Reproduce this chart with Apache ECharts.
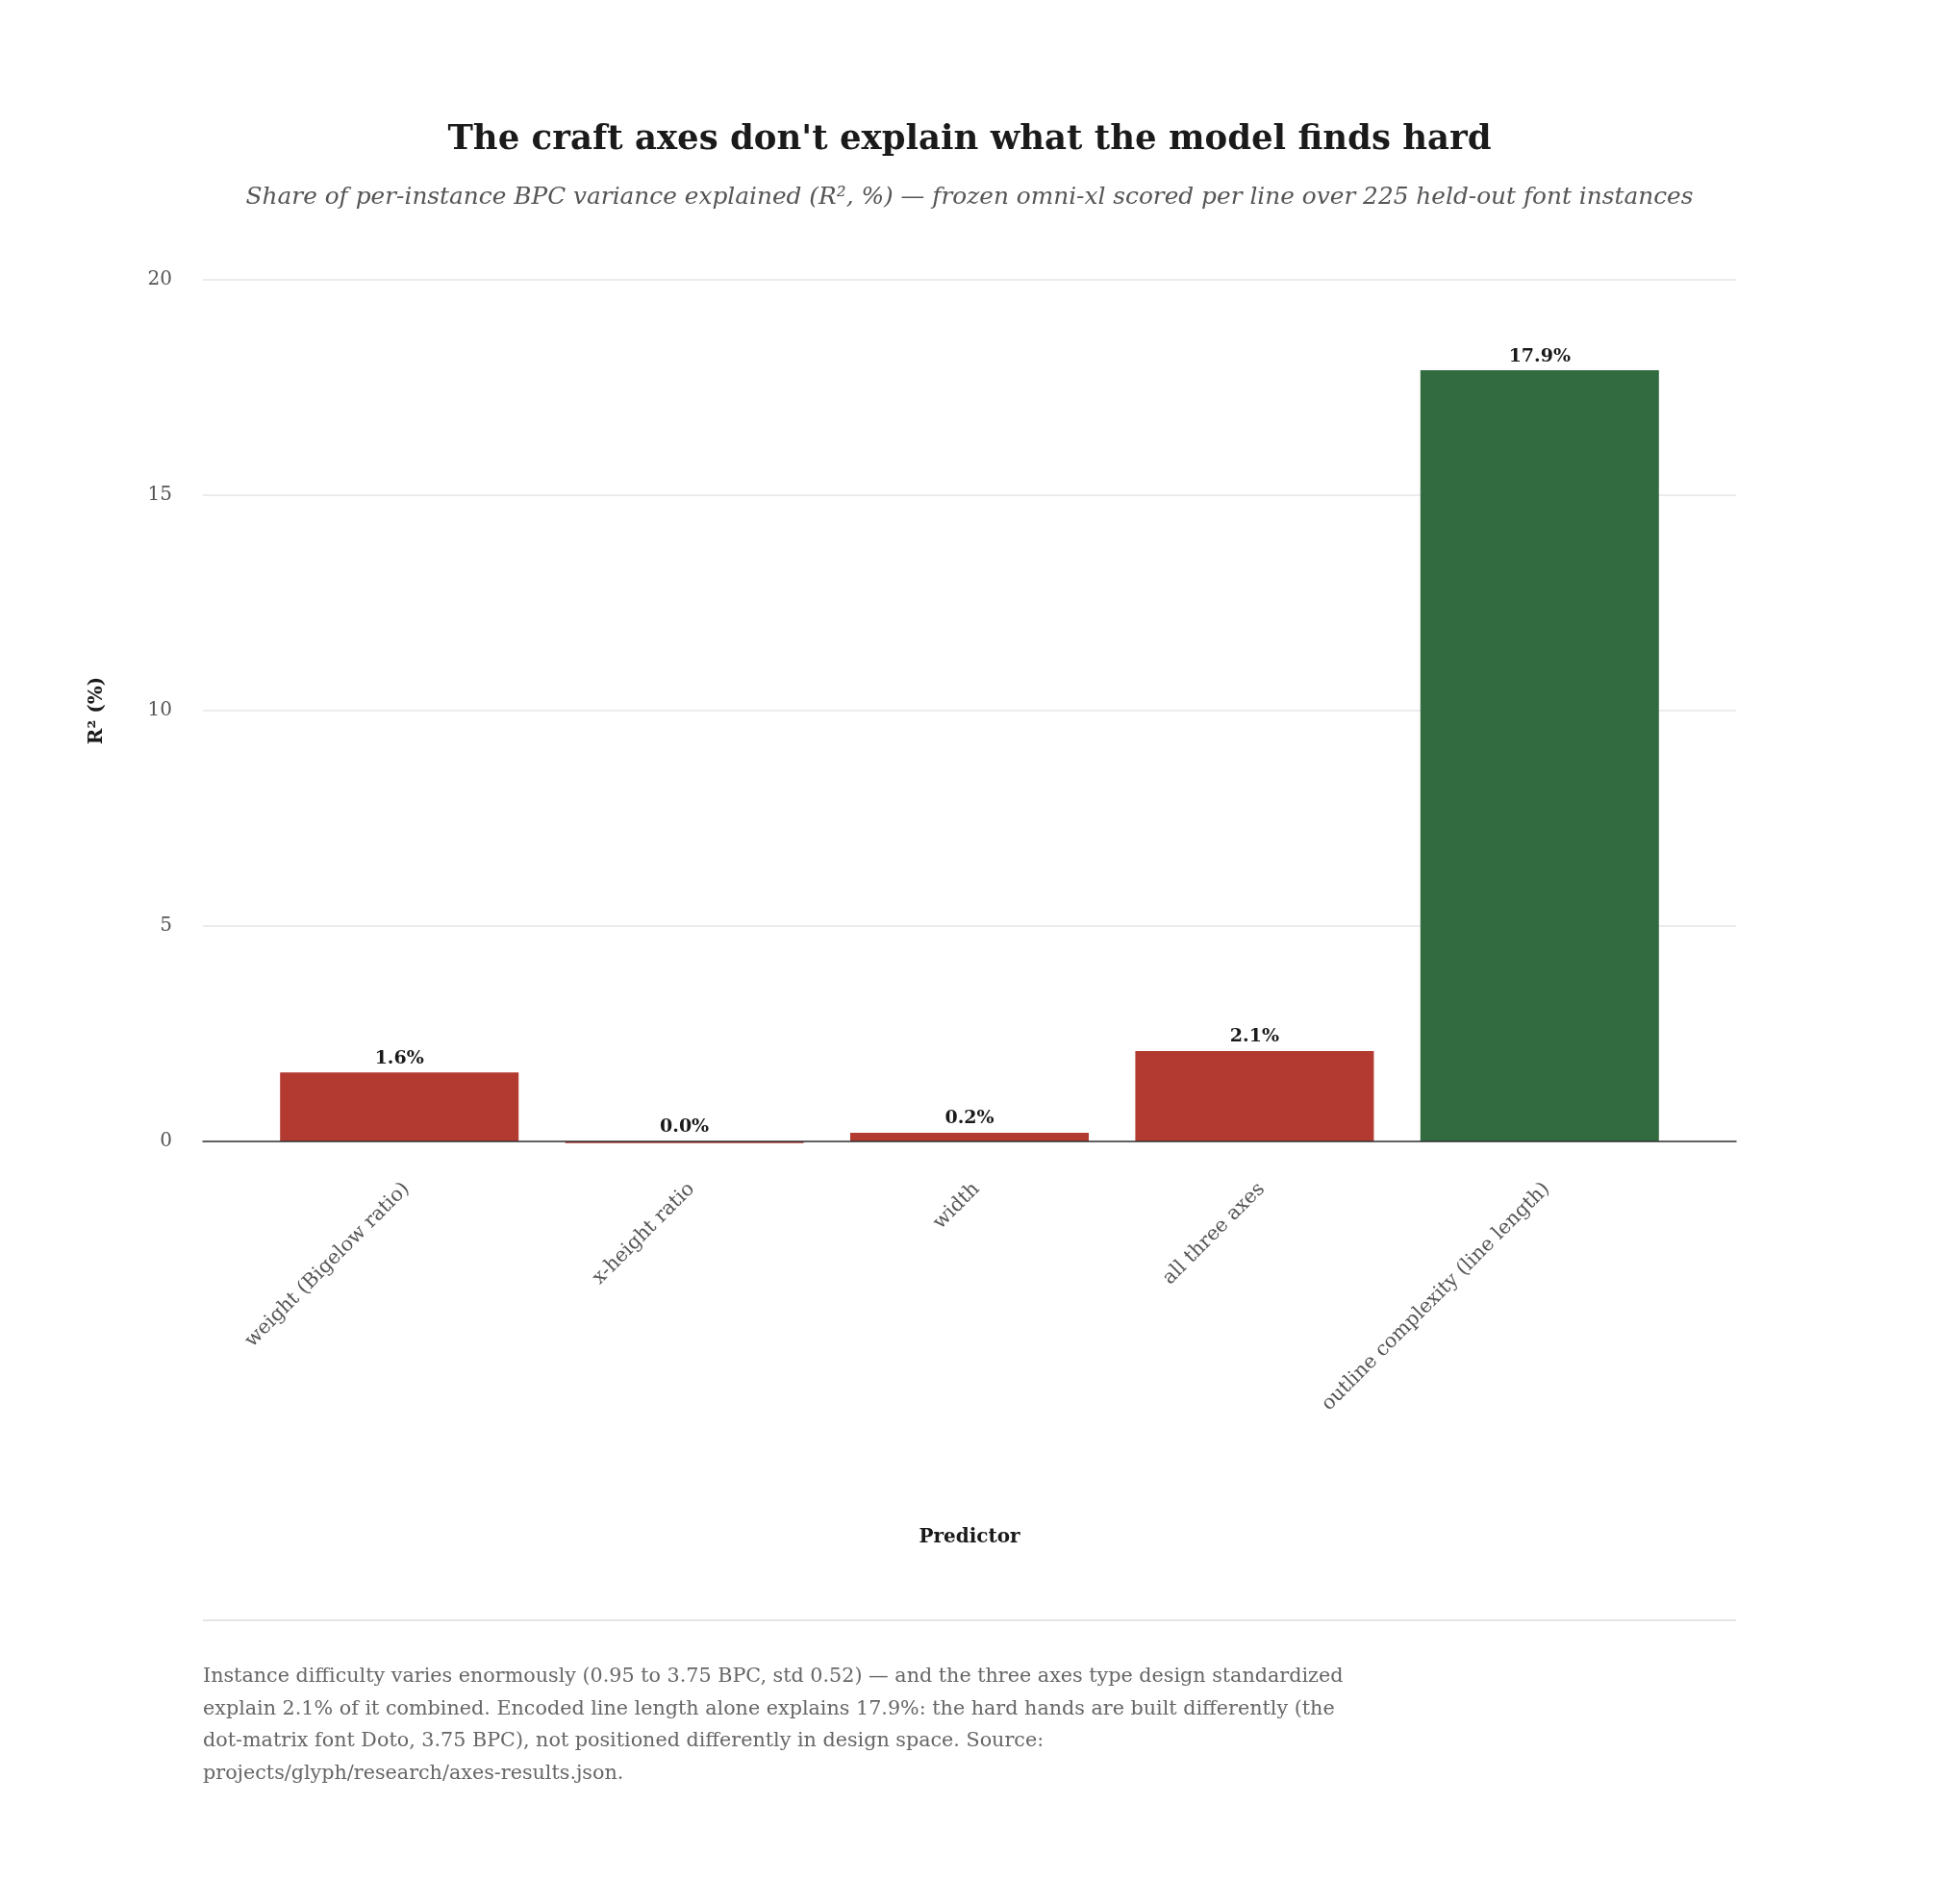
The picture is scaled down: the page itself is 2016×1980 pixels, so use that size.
<!DOCTYPE html>
<html>
<head>
<meta charset="utf-8">
<style>
  html, body { margin: 0; padding: 0; background: #fff; }
  #chart { width: 2016px; height: 1980px; }
</style>
<script src="https://cdn.jsdelivr.net/npm/echarts@6/dist/echarts.min.js"></script>
</head>
<body>
<div id="chart"></div>
<script>
const FONT = "'DejaVu Serif', 'Liberation Serif', serif";

const predictors = [
  "weight (Bigelow ratio)",
  "x-height ratio",
  "width",
  "all three axes",
  "outline complexity (line length)"
];
const r2Values = [1.6, -0.04, 0.2, 2.1, 17.9];
const barColors = ["#b33a30", "#b33a30", "#b33a30", "#b33a30", "#316b3f"];
const yTicks = { min: 0, max: 20, interval: 5 };

const footnote = [
  "Instance difficulty varies enormously (0.95 to 3.75 BPC, std 0.52) \u2014 and the three axes type design standardized",
  "explain 2.1% of it combined. Encoded line length alone explains 17.9%: the hard hands are built differently (the",
  "dot-matrix font Doto, 3.75 BPC), not positioned differently in design space. Source:",
  "projects/glyph/research/axes-results.json."
].join("\n");

const chart = echarts.init(document.getElementById("chart"));

chart.setOption({
  backgroundColor: "#fff",
  textStyle: { fontFamily: FONT },
  title: [
    {
      text: "The craft axes don't explain what the model finds hard",
      left: "center",
      top: 123,
      textStyle: { fontFamily: FONT, fontSize: 35.5, fontWeight: "bold", color: "#1a1a1a" }
    },
    {
      text: "Share of per-instance BPC variance explained (R\u00b2, %) \u2014 frozen omni-xl scored per line over 225 held-out font instances",
      left: "center",
      top: 188,
      textStyle: { fontFamily: FONT, fontSize: 24.8, fontStyle: "italic", fontWeight: "normal", color: "#555" }
    }
  ],
  // grid 0: frame (gridlines, y labels, zero line); grid 1: padded band for the bars
  grid: [
    { left: 211, right: 211, top: 291, bottom: 793, containLabel: false },
    { left: 267, right: 267, top: 291, bottom: 793, containLabel: false }
  ],
  xAxis: [
    {
      gridIndex: 0,
      type: "value",
      min: 0,
      max: 1,
      z: 5,
      axisLine: { show: true, onZero: false, lineStyle: { color: "#333", width: 1.5 } },
      axisTick: { show: false },
      axisLabel: { show: false },
      splitLine: { show: false }
    },
    {
      gridIndex: 1,
      type: "category",
      data: predictors,
      name: "Predictor",
      nameLocation: "middle",
      nameGap: 402,
      nameTextStyle: { fontFamily: FONT, fontSize: 20, fontWeight: "bold", color: "#1a1a1a" },
      axisLine: { show: false },
      axisTick: { show: false },
      axisLabel: {
        rotate: 45,
        margin: 39,
        verticalAlign: "top",
        fontFamily: FONT,
        fontSize: 20.5,
        color: "#555"
      }
    }
  ],
  yAxis: [
    {
      gridIndex: 0,
      type: "value",
      min: yTicks.min,
      max: yTicks.max,
      interval: yTicks.interval,
      name: "R\u00b2 (%)",
      nameLocation: "middle",
      nameGap: 100,
      nameTextStyle: { fontFamily: FONT, fontSize: 20, fontWeight: "bold", color: "#1a1a1a" },
      axisLine: { show: false },
      axisTick: { show: false },
      axisLabel: { margin: 32, fontFamily: FONT, fontSize: 20, color: "#555" },
      splitLine: { lineStyle: { color: "#e6e6e6", width: 1.5 } }
    },
    {
      gridIndex: 1,
      type: "value",
      min: yTicks.min,
      max: yTicks.max,
      interval: yTicks.interval,
      show: false,
      splitLine: { show: false }
    }
  ],
  series: [
    {
      type: "bar",
      xAxisIndex: 1,
      yAxisIndex: 1,
      clip: false,
      barWidth: 248,
      data: r2Values.map((v, i) => ({ value: v, itemStyle: { color: barColors[i] } })),
      label: {
        show: true,
        position: "top",
        distance: 5,
        fontFamily: FONT,
        fontSize: 19,
        fontWeight: "bold",
        color: "#1a1a1a",
        formatter: (p) => {
          const v = Math.round(p.value * 10) / 10;
          return (v === 0 ? 0 : v).toFixed(1) + "%";
        }
      }
    }
  ],
  graphic: [
    {
      type: "line",
      shape: { x1: 211, y1: 1685, x2: 1805, y2: 1685 },
      style: { stroke: "#dddddd", lineWidth: 1.5 }
    },
    {
      type: "text",
      left: 211,
      top: 1727,
      style: {
        text: footnote,
        fontFamily: FONT,
        fontSize: 20.7,
        lineHeight: 33.5,
        fill: "#666"
      }
    }
  ]
});
</script>
</body>
</html>
